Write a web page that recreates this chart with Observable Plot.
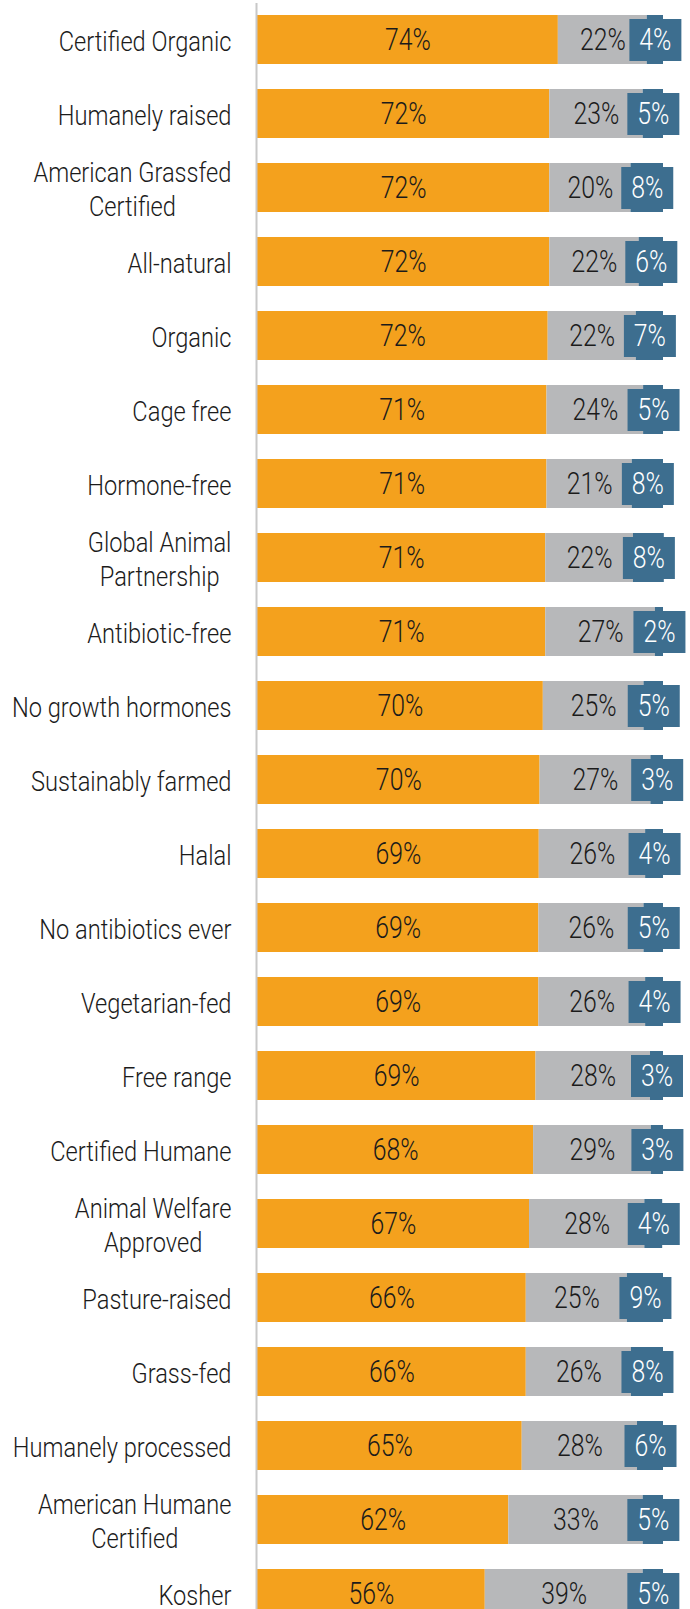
<!DOCTYPE html>
<html>
<head>
<meta charset="utf-8">
<script src="https://cdn.jsdelivr.net/npm/d3@7"></script>
<script src="https://cdn.jsdelivr.net/npm/@observablehq/plot@0.6"></script>
<style>
  html, body { margin: 0; padding: 0; background: #fff; }
  #chart { width: 690px; height: 1609px; overflow: hidden; }
</style>
</head>
<body>
<div id="chart"></div>
<script>
const categories = [
  "Certified Organic", "Humanely raised", "American Grassfed\nCertified", "All-natural",
  "Organic", "Cage free", "Hormone-free", "Global Animal\nPartnership", "Antibiotic-free",
  "No growth hormones", "Sustainably farmed", "Halal", "No antibiotics ever", "Vegetarian-fed",
  "Free range", "Certified Humane", "Animal Welfare\nApproved", "Pasture-raised", "Grass-fed",
  "Humanely processed", "American Humane\nCertified", "Kosher"
];
const orangeValues = [74.1, 72.0, 72.0, 72.0, 71.6, 71.3, 71.3, 71.0, 71.0, 70.4, 69.6, 69.4, 69.3, 69.3, 68.6, 68.0, 67.0, 66.2, 66.2, 65.2, 61.9, 56.1];
const grayValues   = [21.9, 23.0, 20.0, 22.0, 21.7, 23.8, 21.0, 21.6, 27.0, 24.8, 27.3, 26.2, 25.9, 26.3, 28.2, 29.0, 28.4, 24.9, 25.9, 28.4, 33.1, 38.9];
const blueValues   = [4.0, 5.0, 8.0, 6.0, 6.7, 4.9, 7.7, 7.6, 2.0, 4.8, 3.1, 4.4, 4.8, 4.4, 3.2, 3.0, 4.4, 8.9, 7.9, 6.4, 5.0, 5.0];
const seriesNames = ["agree", "neutral", "disagree"];
const seriesColors = ["#F4A11D", "#B7B8BA", "#3D6E8F"];
const textColors = ["#1b1b1b", "#1b1b1b", "#ffffff"];

const FONT = "Roboto, 'DejaVu Sans', sans-serif";
const SQUEEZE_LABELS = 0.86;  // horizontal condensing of category labels
const SQUEEZE_VALUES = 0.8;   // horizontal condensing of value labels

const rows = [];
categories.forEach((c, i) => {
  const vals = [orangeValues[i], grayValues[i], blueValues[i]];
  let acc = 0;
  vals.forEach((v, k) => {
    rows.push({cat: c, series: seriesNames[k], value: v, x1: acc, x2: acc + v, mid: acc + v / 2});
    acc += v;
  });
});
const blueRows = rows.filter(d => d.series === "disagree");

const plot = Plot.plot({
  width: 690,
  height: 1609,
  marginLeft: 257,
  marginRight: 27,
  marginTop: 3,
  marginBottom: 0,
  style: {fontFamily: FONT, background: "#fff", fontWeight: 300},
  x: {domain: [0, 100], axis: null},
  y: {domain: categories, range: [2.5, 1630.5], paddingInner: 0.338, paddingOuter: 0.169, axis: null},
  color: {domain: seriesNames, range: seriesColors},
  marks: [
    Plot.barX(rows, {x1: "x1", x2: "x2", y: "cat", fill: "series"}),
    Plot.tickX(blueRows, {x: "mid", y: "cat", stroke: seriesColors[2], strokeWidth: 52, insetTop: 4, insetBottom: 3}),
    Plot.text(rows, {
      x: "mid", y: "cat",
      text: d => d3.format(".0f")(d.value) + "%",
      fill: d => textColors[seriesNames.indexOf(d.series)],
      fontSize: 31, fontWeight: 300, textAnchor: "middle"
    }),
    Plot.ruleX([0], {stroke: "#c8c8c8", strokeWidth: 2, dx: -1}),
    Plot.axisY({tickSize: 0, tickPadding: 26, fontSize: 27.5, fontWeight: 300, lineHeight: 1.24, fill: "#1b1b1b", label: null})
  ]
});
document.getElementById("chart").appendChild(plot);

// condense texts horizontally around their anchor; center multi-line category labels
d3.select(plot).selectAll('g[aria-label="text"] text').each(function() {
  const t = this.getAttribute("transform") || "";
  this.setAttribute("transform", t + ` scale(${SQUEEZE_VALUES},1)`);
});
d3.select(plot).selectAll('g[aria-label="y-axis tick label"] text').each(function() {
  const t = this.getAttribute("transform") || "";
  let extra = ` scale(${SQUEEZE_LABELS},1)`;
  if (this.querySelectorAll("tspan").length > 1) {
    const w = this.getBBox().width;
    this.setAttribute("text-anchor", "middle");
    extra += ` translate(${-w / 2},0)`;
  }
  this.setAttribute("transform", t + extra);
});
</script>
</body>
</html>
